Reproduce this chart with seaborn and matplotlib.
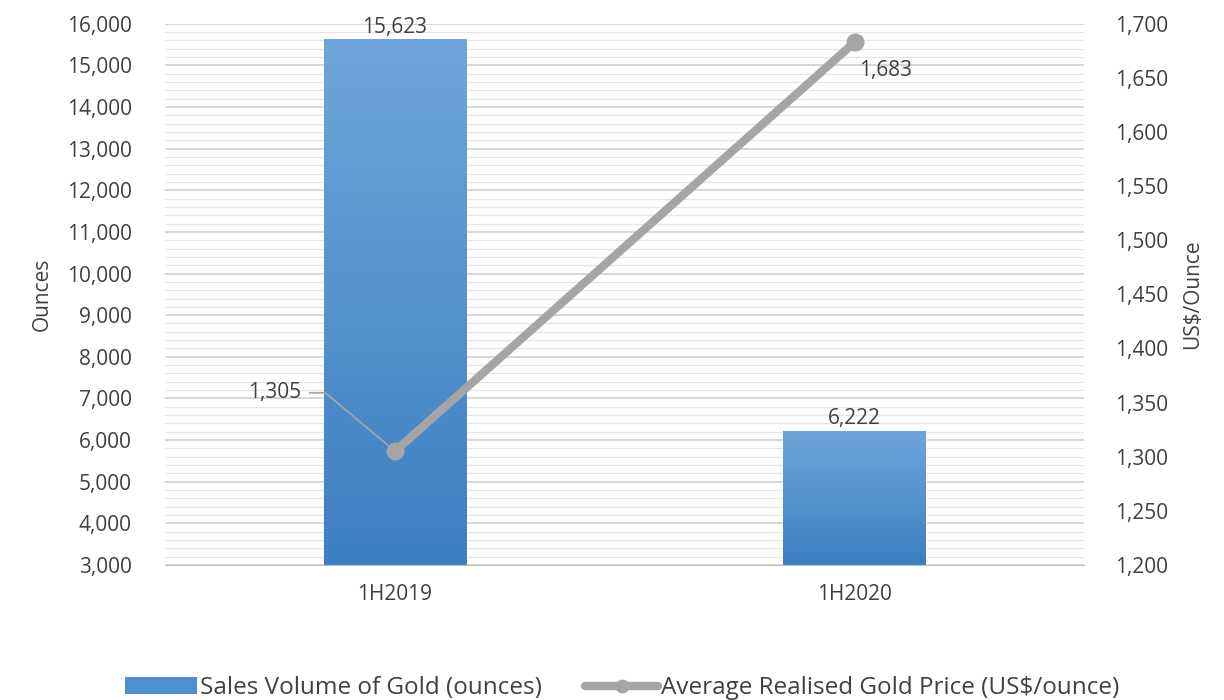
import numpy as np
import pandas as pd
import matplotlib.pyplot as plt
import seaborn as sns
from matplotlib.ticker import MultipleLocator, FuncFormatter
from matplotlib.lines import Line2D
from matplotlib.patches import Patch

# ------------------- Data -------------------
periods = ["1H2019", "1H2020"]
sales_volume = [15623, 6222]        # ounces
gold_price = [1305, 1683]           # US$/ounce

df = pd.DataFrame({"Period": periods, "Sales": sales_volume, "Price": gold_price})

sns.set_style("white")
plt.rcParams["font.family"] = ["Open Sans", "DejaVu Sans"]
txt = "#404040"
fs = 15

fig = plt.figure(figsize=(12.24, 7), dpi=100)
ax = fig.add_axes([0.135, 0.193, 0.751, 0.773])

# ------------------- Bars (sales volume) -------------------
sns.barplot(x="Period", y="Sales", data=df, color="#5b9bd5", width=0.31, ax=ax,
            zorder=2)
ax.set_ylim(3000, 16000)
ax.set_xlim(-0.5, 1.5)

# vertical gradient fill clipped to each bar
grad = np.linspace(0, 1, 256).reshape(-1, 1)
cmap = sns.blend_palette(["#3c7fc2", "#6fa5dc"], as_cmap=True)
for bar in ax.patches:
    x0, y0 = bar.get_x(), bar.get_y()
    w, h = bar.get_width(), bar.get_height()
    im = ax.imshow(grad, cmap=cmap, origin="lower", aspect="auto",
                   extent=[x0, x0 + w, 3000, y0 + h], zorder=2.1)
    im.set_clip_path(bar)
    ax.text(x0 + w / 2, y0 + h + 40, f"{int(h):,}", ha="center", va="bottom",
            fontsize=fs, color=txt)

ax.yaxis.set_major_locator(MultipleLocator(1000))
ax.yaxis.set_minor_locator(MultipleLocator(200))
ax.yaxis.set_major_formatter(FuncFormatter(lambda v, p: f"{int(v):,}"))
ax.grid(axis="y", which="major", color="#d0d0d0", lw=1.2, zorder=0)
ax.grid(axis="y", which="minor", color="#e6e6e6", lw=0.9, zorder=0)
ax.set_axisbelow(True)
ax.tick_params(axis="both", which="both", length=0, labelsize=fs, labelcolor=txt)
ax.tick_params(axis="y", pad=24)
ax.tick_params(axis="x", pad=14)
ax.set_xlabel("")
ax.set_ylabel("Ounces", fontsize=fs, color=txt, labelpad=10)
for s in ["top", "left", "right"]:
    ax.spines[s].set_visible(False)
ax.spines["bottom"].set_color("#bfbfbf")

# ------------------- Line (gold price) -------------------
ax2 = ax.twinx()
sns.lineplot(x=[0, 1], y=gold_price, ax=ax2, color="#a5a5a5", lw=6,
             marker="o", markersize=13, markeredgewidth=0, zorder=3)
ax2.set_ylim(1200, 1700)
ax2.yaxis.set_major_locator(MultipleLocator(50))
ax2.yaxis.set_major_formatter(FuncFormatter(lambda v, p: f"{int(v):,}"))
ax2.tick_params(axis="y", length=0, labelsize=fs, labelcolor=txt, pad=22)
ax2.set_ylabel("US$/Ounce", fontsize=fs, color=txt, labelpad=10)
for s in ax2.spines.values():
    s.set_visible(False)

# data labels for price
ax2.annotate(f"{gold_price[0]:,}", xy=(0, gold_price[0]), xytext=(-0.205, 1359),
             ha="right", va="center", fontsize=fs, color=txt,
             arrowprops=dict(arrowstyle="-", color="#a5a5a5", lw=1.3,
                             shrinkA=4, shrinkB=7,
                             connectionstyle="angle,angleA=0,angleB=140,rad=0"))
ax2.text(1.067, 1657, f"{gold_price[1]:,}", ha="center", va="center",
         fontsize=fs, color=txt)

# ------------------- Legend -------------------
handles = [Patch(facecolor="#4f8fd0", edgecolor="none"),
           Line2D([0], [0], color="#a5a5a5", lw=6, marker="o", markersize=9)]
labels = ["Sales Volume of Gold (ounces)", "Average Realised Gold Price (US$/ounce)"]
fig.legend(handles, labels, loc="center", bbox_to_anchor=(0.508, 0.017), ncol=2,
           frameon=False, fontsize=17.5, labelcolor=txt, handlelength=3.0,
           handletextpad=0.1, columnspacing=1.8)

plt.savefig("out.png", dpi=100)
plt.close()
